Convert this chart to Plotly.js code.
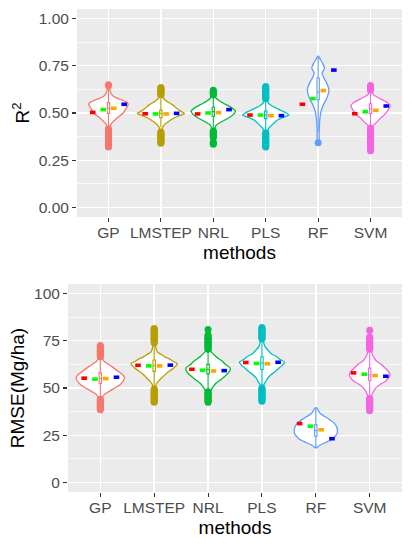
<!DOCTYPE html>
<html><head><meta charset="utf-8">
<script src="https://cdn.plot.ly/plotly-3.0.1.min.js"></script>
<style>html,body{margin:0;padding:0;background:#fff}#chart{width:412px;height:550px}</style>
</head><body><div id="chart"></div>
<script>
const methods = ["GP","LMSTEP","NRL","PLS","RF","SVM"];

// ---- R2 violin outlines: y levels and relative density (half width) ----
const r2_GP_y = [0.32,0.38,0.42,0.435,0.445,0.46,0.475,0.50,0.525,0.545,0.555,0.57,0.585,0.60,0.62,0.65];
const r2_GP_d = [1,1,1.2,2,3,6,9,15,18,20,19,13,6,3,1.5,1];
const r2_LMSTEP_y = [0.34,0.38,0.42,0.43,0.445,0.463,0.48,0.498,0.51,0.525,0.543,0.56,0.57,0.58,0.60,0.64];
const r2_LMSTEP_d = [1,1.2,1.5,2.5,5,10,16,24,20,16,12,6.5,4,2.5,1.5,1];
const r2_NRL_y = [0.335,0.37,0.41,0.425,0.436,0.45,0.472,0.49,0.51,0.53,0.55,0.565,0.578,0.59,0.62];
const r2_NRL_d = [1,1.2,1.5,2,3,7,15,20,22.5,18,11,6,3,1.5,1];
const r2_PLS_y = [0.32,0.37,0.40,0.419,0.43,0.445,0.463,0.478,0.489,0.50,0.512,0.525,0.538,0.55,0.565,0.64];
const r2_PLS_d = [1,1.2,1.5,3,5,8,12,18,23.5,21,16,11,6,3,1.5,1];
const r2_RF_y = [0.342,0.40,0.454,0.48,0.516,0.543,0.569,0.596,0.622,0.658,0.684,0.711,0.738,0.764,0.785,0.80];
const r2_RF_d = [0.8,1,1.5,2,3.3,5.3,8,10,11,8.7,6,4,6.5,4.5,2,0.5];
const r2_SVM_y = [0.30,0.36,0.42,0.436,0.45,0.472,0.49,0.507,0.525,0.54,0.555,0.578,0.596,0.61,0.65];
const r2_SVM_d = [1,1.1,1.5,3,6,10,14,16.7,19,20,17,9,3,1.5,1];

// ---- RMSE violin outlines ----
const rm_GP_y = [38.5,42,44,45.5,47,48.5,50,51.6,54,55.6,57,59,61.3,63,64,66,68,72.5];
const rm_GP_d = [1,1.2,1.5,2.5,5,10,15,20,24,25,23,18,12,7,4,2,1.5,1];
const rm_LMSTEP_y = [42.5,46,50,52,53.4,56,58,59.6,61,62.8,64,65.3,66.5,67.5,69.3,72,81.5];
const rm_LMSTEP_d = [1,1.2,1.5,2,4,9,13,17.5,21,24,20,16,11,8,3,1.5,1];
const rm_NRL_y = [42.5,45,47,48.9,50.5,52.5,54,56,58,59.9,61,62.5,64,65.5,66.7,69.3,72,77,81];
const rm_NRL_d = [1,1.2,1.5,3,5,8,12,16.7,21,23,22,18,15,11,8,3,1.5,1.2,1];
const rm_PLS_y = [43,46,50,52,53.4,55,56.9,58.5,60.5,62,63.7,65,66.7,68,69.3,72,75,81.5];
const rm_PLS_d = [1,1.2,1.5,2,4,5.5,9,13,17.5,21,23.3,19,15,10,7.5,3,1.5,1];
const rm_RF_y = [18.5,19.7,21.4,23.2,25.9,28.6,31.2,33.9,36.5,38.5,39.5];
const rm_RF_d = [1,4,11,17.5,22,22,19.5,12.5,4.5,2,0.5];
const rm_SVM_y = [38,42,45,47.2,49.8,52,53.4,55,56.9,59,60.5,62.5,64,65.5,67.5,70,74,80.5];
const rm_SVM_d = [1,1.2,1.5,3,6,11,16,19,21,19,16,12,7.5,5,3,1.5,1.2,1];

// ---- box statistics ----
const r2_q1  = [0.498,0.475,0.483,0.47,0.57,0.497];
const r2_med = [0.525,0.497,0.507,0.49,0.61,0.522];
const r2_q3  = [0.555,0.515,0.53,0.51,0.685,0.548];
const r2_lo  = [0.43,0.425,0.42,0.41,0.40,0.43];
const r2_hi  = [0.63,0.575,0.59,0.565,0.80,0.605];
const rm_q1  = [52.5,58.8,57.5,59.8,24.5,54];
const rm_med = [55,61.8,59.8,63.2,27.5,57];
const rm_q3  = [58,64.8,62.5,66.5,30.5,60.5];
const rm_lo  = [45,50.5,49,50.5,18.5,45];
const rm_hi  = [66,73.5,69.5,75.5,39.5,70];

// ---- outliers ----
const r2_GP_out = [0.65,0.645,0.415,0.41,0.405,0.40,0.395,0.39,0.385,0.38,0.375,0.37,0.365,0.36,0.355,0.35,0.345,0.34,0.335,0.33,0.325,0.32];
const r2_LMSTEP_out = [0.635,0.63,0.625,0.62,0.615,0.61,0.605,0.60,0.595,0.40,0.395,0.39,0.385,0.38,0.375,0.37,0.365,0.36,0.355,0.35,0.345,0.34];
const r2_NRL_out = [0.62,0.615,0.61,0.605,0.60,0.595,0.405,0.40,0.395,0.39,0.385,0.38,0.375,0.37,0.345,0.34,0.335];
const r2_PLS_out = [0.64,0.635,0.63,0.625,0.62,0.615,0.61,0.605,0.60,0.595,0.59,0.585,0.58,0.575,0.395,0.39,0.385,0.38,0.375,0.37,0.365,0.36,0.355,0.35,0.345,0.34,0.335,0.33,0.325,0.32];
const r2_RF_out = [0.342];
const r2_SVM_out = [0.645,0.64,0.635,0.63,0.625,0.62,0.42,0.415,0.41,0.405,0.40,0.395,0.39,0.385,0.38,0.375,0.37,0.365,0.36,0.355,0.35,0.34,0.33,0.32,0.31,0.30];
const rm_GP_out = [72.5,72,71.5,71,70.5,70,69.5,69,68.5,68,67.5,67,66.5,44,43.5,43,42.5,42,41.5,41,40.5,40,39.5,39,38.5];
const rm_LMSTEP_out = [81.5,81,80.5,80,79.5,79,78.5,78,77.5,77,76.5,76,75.5,75,74.5,74,49.5,49,48.5,48,47.5,47,46.5,46,45.5,45,44.5,44,43.5,43,42.5];
const rm_NRL_out = [81,78,77.5,77,76.5,76,75.5,75,74.5,74,73.5,73,72.5,72,71.5,71,70.5,48,47.5,47,46.5,46,45.5,45,44.5,44,43.5,43,42.5];
const rm_PLS_out = [82,81.5,81,80.5,80,79.5,79,78.5,78,77.5,77,76.5,76,50,49.5,49,48.5,48,47.5,47,46.5,46,45.5,45,44.5,44,43.5,43];
const rm_RF_out = [];
const rm_SVM_out = [80.5,77,76.5,76,75.5,75,74.5,74,73.5,73,72.5,72,71.5,71,70.5,44.5,44,43.5,43,42.5,42,41.5,41,40.5,40,39.5,39,38.5,38];

// ---- mean dashes ----
const r2_red    = [0.503,0.496,0.495,0.489,0.546,0.496];
const r2_green  = [0.518,0.495,0.500,0.489,0.576,0.507];
const r2_orange = [0.525,0.495,0.502,0.486,0.619,0.514];
const r2_blue   = [0.546,0.498,0.518,0.486,0.727,0.537];
const rm_red    = [55.2,62.0,59.9,63.5,31.2,58.0];
const rm_green  = [54.7,61.7,59.4,63.0,29.8,57.3];
const rm_orange = [55.0,61.7,59.0,62.8,27.9,56.6];
const rm_blue   = [55.7,62.1,59.2,63.6,23.2,56.2];

const hue = ["#F8766D","#B79F00","#00BA38","#00BFC4","#619CFF","#F564E3"];
const dashCols = ["#FF0000","#00FF00","#FFA500","#0000FF"];
const dashOff = [-0.3,-0.1,0.1,0.3];
const traces = [];

function panel(ax, oax, vy, vd, q1, med, q3, lo, hi, outs, dashes) {
  const maxD = Math.max(...vd.map(a => Math.max(...a)));
  methods.forEach((m, i) => {
    const c = i + 1;
    const w = vd[i].map(d => d / maxD * 0.45);
    const xs = vy[i].map((y, k) => c - w[k]).concat(vy[i].slice().reverse().map((y, k) => c + w[w.length - 1 - k]));
    const ys = vy[i].concat(vy[i].slice().reverse());
    xs.push(xs[0]); ys.push(ys[0]);
    traces.push({type:'scatter', mode:'lines', x:xs, y:ys, xaxis:ax[0], yaxis:ax[1],
      fill:'toself', fillcolor:'#FFFFFF', line:{color:hue[i], width:1.3, shape:'spline', smoothing:0.6}, hoverinfo:'skip'});
  });
  methods.forEach((m, i) => {
    traces.push({type:'box', x:[i+1], q1:[q1[i]], median:[med[i]], q3:[q3[i]], lowerfence:[lo[i]], upperfence:[hi[i]],
      xaxis:oax[0], yaxis:oax[1], boxpoints:false, width:0.045, whiskerwidth:0,
      fillcolor:'#FFFFFF', line:{color:hue[i], width:1.1}, name:m});
  });
  methods.forEach((m, i) => {
    if (!outs[i].length) return;
    traces.push({type:'scatter', mode:'markers', x:outs[i].map(() => i+1), y:outs[i], xaxis:oax[0], yaxis:oax[1],
      marker:{color:hue[i], size:7}, hoverinfo:'skip'});
  });
  dashes.forEach((vals, j) => {
    traces.push({type:'scatter', mode:'markers', x:vals.map((v, i) => i + 1 + dashOff[j]), y:vals,
      xaxis:oax[0], yaxis:oax[1],
      marker:{symbol:'line-ew', size:4, color:dashCols[j], line:{color:dashCols[j], width:3.6}}, hoverinfo:'skip'});
  });
}

panel(['x','y'], ['x3','y3'],
  [r2_GP_y,r2_LMSTEP_y,r2_NRL_y,r2_PLS_y,r2_RF_y,r2_SVM_y],
  [r2_GP_d,r2_LMSTEP_d,r2_NRL_d,r2_PLS_d,r2_RF_d,r2_SVM_d],
  r2_q1, r2_med, r2_q3, r2_lo, r2_hi,
  [r2_GP_out,r2_LMSTEP_out,r2_NRL_out,r2_PLS_out,r2_RF_out,r2_SVM_out],
  [r2_red,r2_green,r2_orange,r2_blue]);
panel(['x2','y2'], ['x4','y4'],
  [rm_GP_y,rm_LMSTEP_y,rm_NRL_y,rm_PLS_y,rm_RF_y,rm_SVM_y],
  [rm_GP_d,rm_LMSTEP_d,rm_NRL_d,rm_PLS_d,rm_RF_d,rm_SVM_d],
  rm_q1, rm_med, rm_q3, rm_lo, rm_hi,
  [rm_GP_out,rm_LMSTEP_out,rm_NRL_out,rm_PLS_out,rm_RF_out,rm_SVM_out],
  [rm_red,rm_green,rm_orange,rm_blue]);

const FONT = '"Liberation Sans", Arial, sans-serif';
const tickfont = {family:FONT, size:15.5, color:'#4D4D4D'};
const titlefont = {family:FONT, size:19, color:'#000000'};
function xa(domain, anchor) {
  return {domain:domain, anchor:anchor, range:[0.4,6.6], tickmode:'array', tickvals:[1,2,3,4,5,6], ticktext:methods,
    showgrid:true, gridcolor:'#FFFFFF', gridwidth:1.4, zeroline:false, showline:false,
    ticks:'outside', ticklen:4, tickwidth:1.1, tickcolor:'#333333', tickfont:tickfont, ticklabelstandoff:-3,
    title:{text:'methods', font:titlefont, standoff:6}, fixedrange:true};
}
function ya(domain, anchor, range, dtick, fmt, title) {
  return {domain:domain, anchor:anchor, range:range, tickmode:'linear', tick0:0, dtick:dtick, tickformat:fmt,
    showgrid:true, gridcolor:'#FFFFFF', gridwidth:1.4, zeroline:false, showline:false,
    minor:{dtick:dtick/2, tick0:0, showgrid:true, gridcolor:'#FFFFFF', gridwidth:0.7, ticks:''},
    ticks:'outside', ticklen:4, tickwidth:1.1, tickcolor:'#333333', tickfont:tickfont,
    title:{text:title, font:titlefont, standoff:4}, fixedrange:true};
}
const layout = {
  width:412, height:550, margin:{l:68, r:10, t:9, b:58},
  paper_bgcolor:'#FFFFFF', plot_bgcolor:'#EBEBEB', showlegend:false,
  font:{family:FONT},
  xaxis: xa([0.027,1], 'y'),
  yaxis: ya([0.5694,1], 'x', [-0.05,1.05], 0.25, '.2f', 'R<sup>2</sup>'),
  xaxis2: xa([0,1], 'y2'),
  yaxis2: ya([0,0.4306], 'x2', [-5,105], 25, 'd', 'RMSE(Mg/ha)'),
  xaxis3: {overlaying:'x', anchor:'y3', range:[0.4,6.6], visible:false, fixedrange:true},
  yaxis3: {overlaying:'y', anchor:'x3', range:[-0.05,1.05], visible:false, fixedrange:true},
  xaxis4: {overlaying:'x2', anchor:'y4', range:[0.4,6.6], visible:false, fixedrange:true},
  yaxis4: {overlaying:'y2', anchor:'x4', range:[-5,105], visible:false, fixedrange:true}
};
Plotly.newPlot('chart', traces, layout, {staticPlot:true, displayModeBar:false});
</script>
</body></html>
